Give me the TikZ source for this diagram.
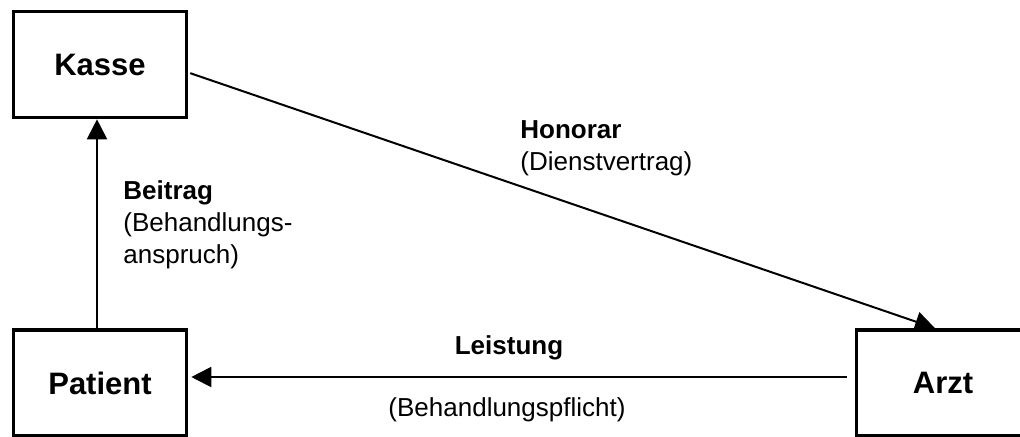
\documentclass[tikz,border=0pt]{standalone}
\usepackage{fontspec}
\setmainfont{Liberation Sans}
\usetikzlibrary{arrows.meta}

\begin{document}
\begin{tikzpicture}[x=0.5pt,y=-0.5pt]
        \tikzstyle{box}=[draw=black, line width=1.8pt, minimum width=86.5pt, minimum height=53pt, inner sep=0pt, font=\fontsize{15.5}{18}\selectfont\bfseries]
        \tikzstyle{lbl}=[inner sep=0pt, align=left, font=\fontsize{13}{16}\selectfont]
        \tikzstyle{pfeil}=[line width=1pt, -{Triangle[length=10pt,width=10pt]}]
        \useasboundingbox (0,0) rectangle (1020,436);
        \node [box] (kasse) at (100,64.5) {Kasse};
        \node [box] (patient) at (100,383) {Patient};
        \node [box] (arzt) at (943,383) {Arzt};
        \draw [pfeil] ([xshift=-1.5pt]patient.north) -- ([xshift=-1.5pt]kasse.south);
        \draw [pfeil, shorten <=1pt] ([yshift=-4pt]kasse.east) -- ([xshift=-4pt]arzt.north);
        \draw [pfeil, shorten <=4pt, shorten >=1.5pt] ([yshift=3pt]arzt.west) -- ([yshift=3pt]patient.east);
        \node [lbl, anchor=west] (beitrag) at (123,225) {\textbf{Beitrag}\\(Behandlungs-\\anspruch)};
        \node [lbl, anchor=west] (honorar) at (520,148) {\textbf{Honorar}\\(Dienstvertrag)};
        \node [lbl, font=\fontsize{13}{16}\selectfont\bfseries] (leistung) at (509,348) {Leistung};
        \node [lbl] (pflicht) at (507,410) {(Behandlungspflicht)};
\end{tikzpicture}
\end{document}
